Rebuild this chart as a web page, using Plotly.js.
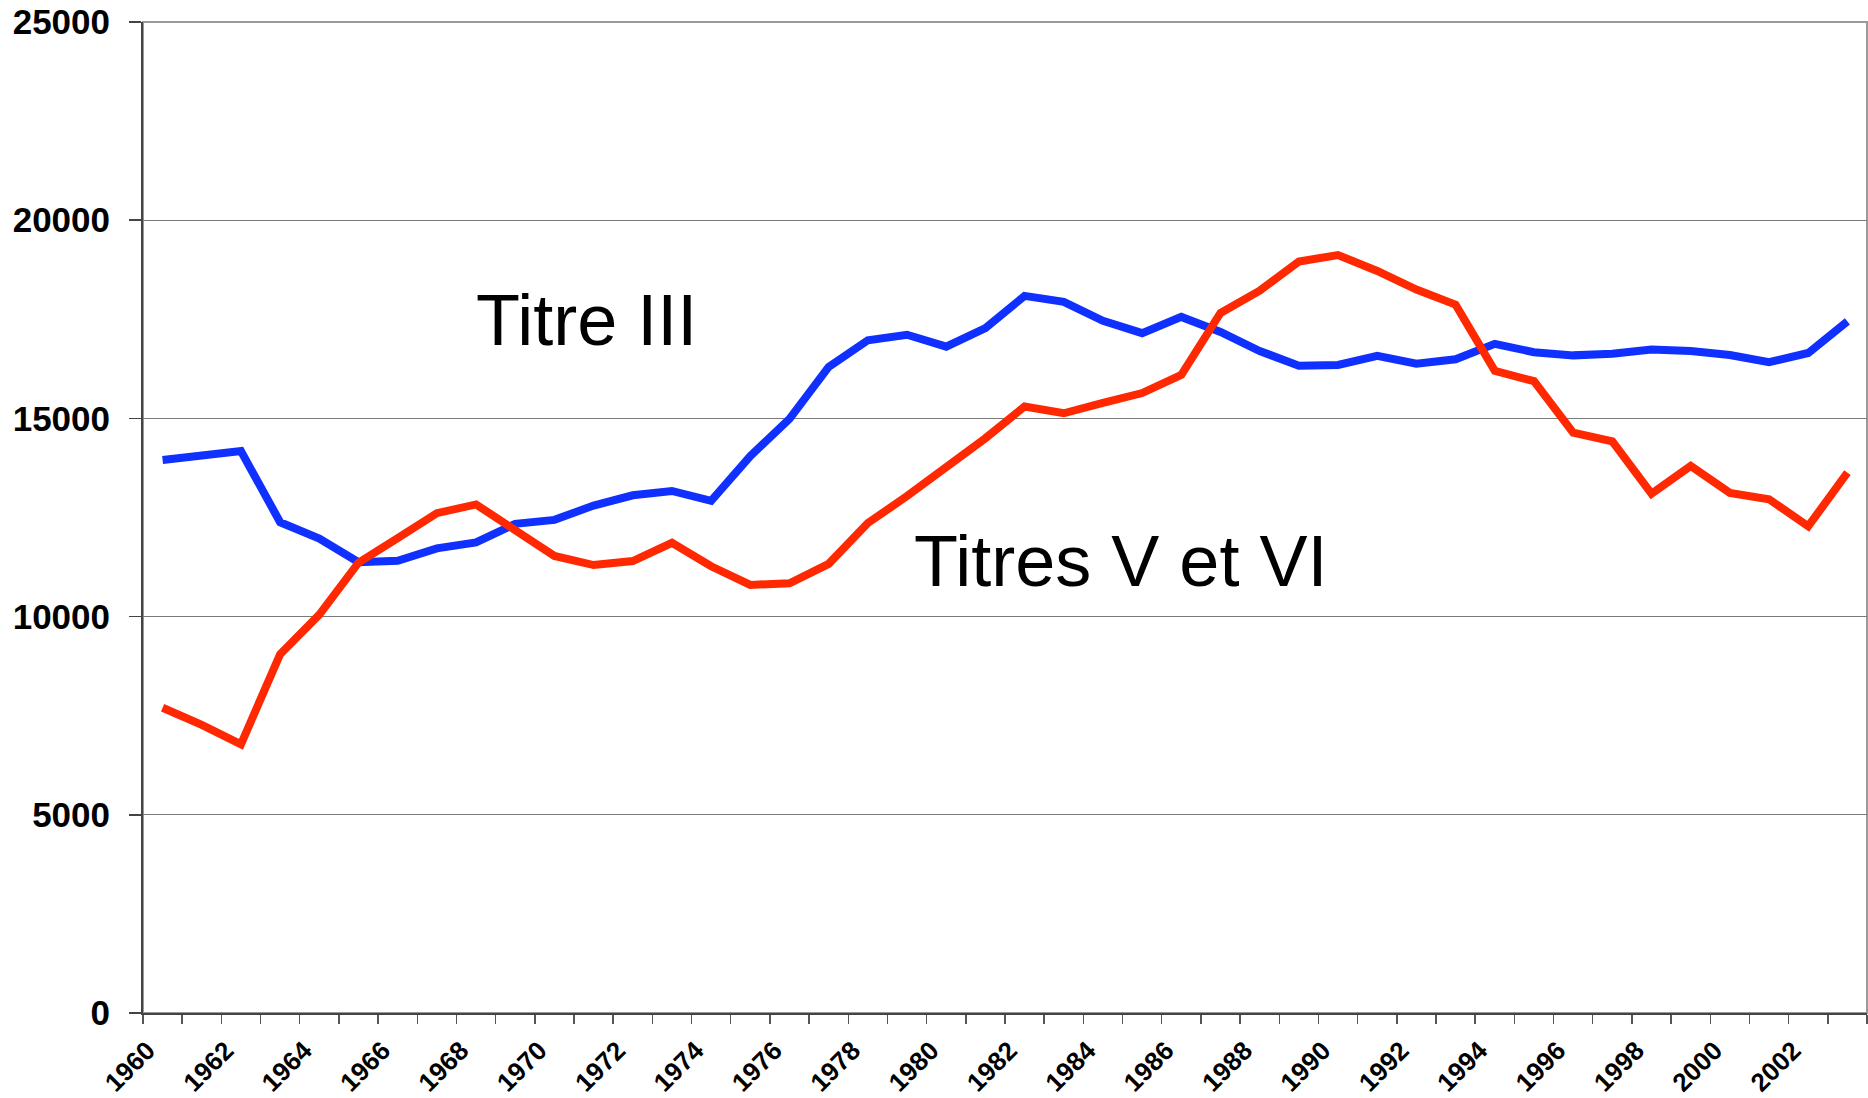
<!DOCTYPE html>
<html>
<head>
<meta charset="utf-8">
<script src="https://cdn.plot.ly/plotly-3.0.1.min.js"></script>
<style>
  html, body { margin: 0; padding: 0; background: #fff; }
  #chart { width: 1868px; height: 1098px; }
</style>
</head>
<body>
<div id="chart"></div>
<script>
const years = [1960,1961,1962,1963,1964,1965,1966,1967,1968,1969,
               1970,1971,1972,1973,1974,1975,1976,1977,1978,1979,
               1980,1981,1982,1983,1984,1985,1986,1987,1988,1989,
               1990,1991,1992,1993,1994,1995,1996,1997,1998,1999,
               2000,2001,2002,2003];

const titreIII = [13950,14060,14175,12380,11970,11370,11410,11720,11870,12340,
                  12440,12800,13060,13170,12920,14050,14990,16300,16970,17110,
                  16810,17280,18090,17940,17460,17150,17560,17180,16700,16330,
                  16350,16580,16380,16490,16880,16670,16590,16630,16740,16700,
                  16600,16420,16650,17450];

const titresVVI = [7700,7270,6780,9050,10050,11360,11980,12610,12830,12160,
                   11530,11300,11400,11860,11270,10800,10840,11330,12360,13040,
                   13750,14500,15300,15130,15390,15640,16100,17660,18220,18960,
                   19120,18720,18250,17870,16200,15940,14640,14420,13100,13800,
                   13120,12960,12280,13630];

const xTickVals = [1960,1962,1964,1966,1968,1970,1972,1974,1976,1978,1980,
                   1982,1984,1986,1988,1990,1992,1994,1996,1998,2000,2002];
const xTickText = ["1960","1962","1964","1966","1968","1970","1972","1974","1976","1978","1980",
                   "1982","1984","1986","1988","1990","1992","1994","1996","1998","2000","2002"];
const yTickVals = [0,5000,10000,15000,20000,25000];
const yTickText = ["0","5000","10000","15000","20000","25000"];

const seriesNames = ["Titre III", "Titres V et VI"];

const traces = [
  {
    x: years, y: titreIII, type: 'scatter', mode: 'lines', name: seriesNames[0],
    line: { color: '#0F30FF', width: 8 }
  },
  {
    x: years, y: titresVVI, type: 'scatter', mode: 'lines', name: seriesNames[1],
    line: { color: '#FF2800', width: 8 }
  }
];

const layout = {
  width: 1868, height: 1098,
  margin: { l: 143, r: 1, t: 22, b: 85, pad: 0 },
  paper_bgcolor: '#ffffff', plot_bgcolor: '#ffffff',
  showlegend: false, hovermode: false,
  font: { family: 'Liberation Sans, Arial, sans-serif', color: '#000' },
  xaxis: {
    range: [1959.5, 2003.5],
    tickmode: 'array', tickvals: xTickVals, ticktext: xTickText,
    tickangle: -45, ticks: '',
    ticklabelshift: -15, ticklabelstandoff: 10,
    tickfont: { family: 'Liberation Sans, Arial, sans-serif', size: 26, color: '#000', weight: 'bold' },
    showline: true, linecolor: '#444', linewidth: 2,
    showgrid: false, zeroline: false,
    minor: { ticks: 'outside', tickmode: 'linear', tick0: 1959.5, dtick: 1, ticklen: 9, tickwidth: 1.5, tickcolor: '#555', showgrid: false }
  },
  yaxis: {
    range: [0, 25000],
    tickmode: 'array', tickvals: yTickVals, ticktext: yTickText,
    ticks: 'outside', ticklen: 12, tickwidth: 1.5, tickcolor: '#444',
    ticklabelstandoff: 12,
    tickfont: { family: 'Liberation Sans, Arial, sans-serif', size: 35, color: '#000', weight: 'bold' },
    showline: true, linecolor: '#444', linewidth: 2,
    showgrid: true, gridcolor: '#7a7a7a', gridwidth: 1.3,
    zeroline: false
  },
  shapes: [
    { type: 'rect', xref: 'paper', yref: 'paper', x0: 0, x1: 1, y0: 0, y1: 1,
      line: { color: '#999', width: 2 }, layer: 'below' }
  ],
  annotations: [
    { text: seriesNames[0], xref: 'x', yref: 'y', x: 1970.83, y: 17475,
      showarrow: false, xanchor: 'center', yanchor: 'middle',
      font: { family: 'Liberation Sans, Arial, sans-serif', size: 72, color: '#000' } },
    { text: seriesNames[1], xref: 'x', yref: 'y', x: 1984.44, y: 11397,
      showarrow: false, xanchor: 'center', yanchor: 'middle',
      font: { family: 'Liberation Sans, Arial, sans-serif', size: 72, color: '#000' } }
  ]
};

Plotly.newPlot('chart', traces, layout, { displayModeBar: false, staticPlot: true });
</script>
</body>
</html>
